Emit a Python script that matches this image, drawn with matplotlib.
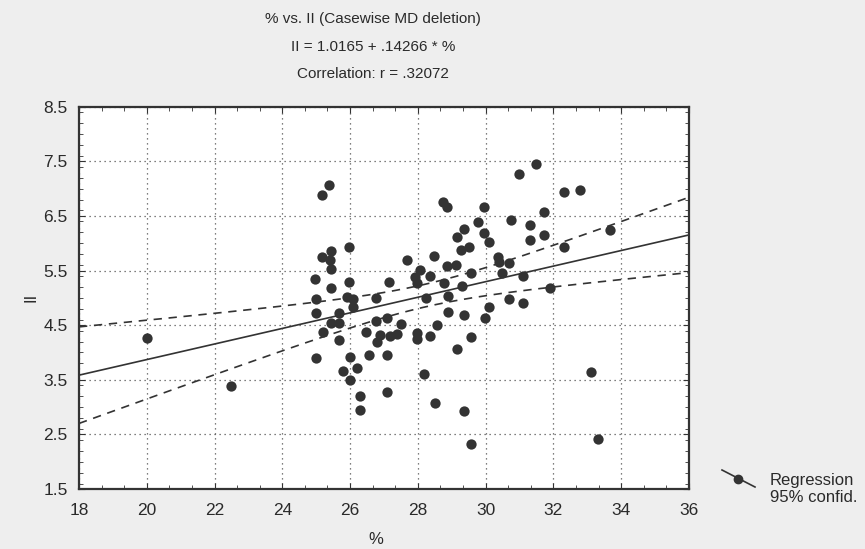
import numpy as np
import matplotlib.pyplot as plt
from matplotlib.lines import Line2D
from matplotlib.ticker import MultipleLocator

plt.rcParams['font.family'] = ['Liberation Sans', 'DejaVu Sans']

# points (% , II)
pct = [20.0, 22.5, 25.37, 25.16, 25.97, 25.45, 25.16, 25.40, 25.45, 24.97,
       25.97, 25.45, 24.98, 25.90, 26.09, 26.09, 24.98, 25.67, 25.45, 25.68,
       25.19, 25.68, 24.98, 26.00, 25.80, 26.21, 26.01, 26.29, 26.29, 26.76,
       27.15, 26.76, 27.09, 27.49, 26.48, 26.88, 27.17, 27.37, 26.78, 26.56,
       27.09, 27.09, 27.67, 28.47, 28.06, 27.91, 28.35, 27.96, 28.25, 27.96,
       27.96, 28.35, 28.55, 28.90, 28.18, 28.50, 29.36, 29.58, 28.75, 28.85,
       29.14, 28.87, 29.29, 28.78, 28.89, 29.35, 29.97, 29.58, 29.16, 30.10,
       30.69, 31.10, 31.89, 33.10, 33.32, 31.50, 30.98, 32.31, 32.78, 29.96,
       31.72, 30.76, 29.78, 29.35, 31.30, 29.16, 29.96, 30.10, 31.30, 31.72,
       29.28, 29.51, 32.31, 30.37, 30.40, 30.69, 29.56, 30.49, 31.10, 33.68]
ii = [4.27, 3.38, 7.07, 6.88, 5.94, 5.86, 5.74, 5.69, 5.52, 5.34,
      5.29, 5.18, 4.98, 5.02, 4.97, 4.84, 4.73, 4.73, 4.54, 4.54,
      4.38, 4.23, 3.90, 3.92, 3.66, 3.71, 3.49, 3.21, 2.95, 4.99,
      5.29, 4.58, 4.63, 4.53, 4.38, 4.32, 4.30, 4.34, 4.20, 3.95,
      3.95, 3.27, 5.70, 5.77, 5.51, 5.39, 5.40, 5.28, 4.99, 4.35,
      4.24, 4.30, 4.51, 4.75, 3.60, 3.07, 2.93, 2.32, 6.76, 6.67,
      5.60, 5.59, 5.22, 5.28, 5.03, 4.68, 4.63, 4.28, 4.06, 4.84,
      4.98, 4.90, 5.18, 3.64, 2.41, 7.46, 7.26, 6.93, 6.97, 6.67,
      6.58, 6.43, 6.38, 6.27, 6.33, 6.11, 6.18, 6.03, 6.06, 6.15,
      5.88, 5.94, 5.94, 5.75, 5.66, 5.64, 5.45, 5.45, 5.40, 6.25]

b0 = 1.0165
b1 = 0.14266
t_crit = 1.984

x = np.array(pct)
y = np.array(ii)
n = len(x)
resid = y - (b0 + b1 * x)
s = np.sqrt(np.sum(resid**2) / (n - 2))
xbar = x.mean()
sxx = np.sum((x - xbar)**2)

xx = np.linspace(18, 36, 200)
yy = b0 + b1 * xx
half = t_crit * s * np.sqrt(1.0 / n + (xx - xbar)**2 / sxx)

fig = plt.figure(figsize=(8.65, 5.49), dpi=100, facecolor='#eeeeee')
ax = fig.add_axes([0.0913, 0.1093, 0.7052, 0.6963])
ax.set_facecolor('white')

ax.scatter(x, y, s=55, color='#333333', zorder=3, linewidths=0)
ax.plot(xx, yy, color='#333333', lw=1.2, zorder=2)
ax.plot(xx, yy + half, color='#333333', lw=1.2, ls=(0, (5, 4)), zorder=2)
ax.plot(xx, yy - half, color='#333333', lw=1.2, ls=(0, (5, 4)), zorder=2)

ax.set_xlim(18, 36)
ax.set_ylim(1.5, 8.5)
ax.xaxis.set_major_locator(MultipleLocator(2))
ax.xaxis.set_minor_locator(MultipleLocator(2 / 3))
ax.set_yticks(np.arange(1.5, 8.6, 1.0))
ax.yaxis.set_minor_locator(MultipleLocator(0.2))
ax.set_yticklabels(['1.5', '2.5', '3.5', '4.5', '5.5', '6.5', '7.5', '8.5'])
ax.tick_params(which='both', direction='in', top=True, right=True,
               color='#333333', labelcolor='#2a2a2a', labelsize=12.5)
ax.tick_params(axis='x', which='major', pad=10)
ax.tick_params(axis='y', which='major', pad=8)
ax.tick_params(which='major', length=4)
ax.tick_params(which='minor', length=3)
ax.grid(True, which='major', ls=(0, (1, 3)), color='#555555', lw=0.9)
for sp in ax.spines.values():
    sp.set_color('#333333')
    sp.set_linewidth(1.6)

ax.set_xlabel('%', fontsize=12, color='#2a2a2a')
ax.set_ylabel('II', fontsize=12, color='#2a2a2a')
ax.xaxis.set_label_coords(0.486, -0.112)
ax.yaxis.set_label_coords(-0.078, 0.5)
ax.xaxis.label.set_va('top')
ax.yaxis.label.set_va('center')

fig.text(0.431, 0.965, '% vs. II (Casewise MD deletion)', ha='center', va='center',
         fontsize=11, color='#2a2a2a')
fig.text(0.431, 0.915, 'II = 1.0165 + .14266 * %', ha='center', va='center',
         fontsize=11, color='#2a2a2a')
fig.text(0.431, 0.866, 'Correlation: r = .32072', ha='center', va='center',
         fontsize=11, color='#2a2a2a')

# legend
fig.add_artist(Line2D([722 / 865, 755 / 865], [1 - 470 / 549, 1 - 487 / 549],
                      color='#333333', lw=1.2, transform=fig.transFigure))
fig.add_artist(Line2D([738 / 865], [1 - 479 / 549], color='#333333', marker='o',
                      markersize=6, ls='none', transform=fig.transFigure))
fig.text(770 / 865, 1 - 480 / 549, 'Regression', fontsize=12, color='#2a2a2a',
         va='center')
fig.text(770 / 865, 1 - 498 / 549, '95% confid.', fontsize=12, color='#2a2a2a',
         va='center')

fig.savefig('out.png', dpi=100, facecolor=fig.get_facecolor())
